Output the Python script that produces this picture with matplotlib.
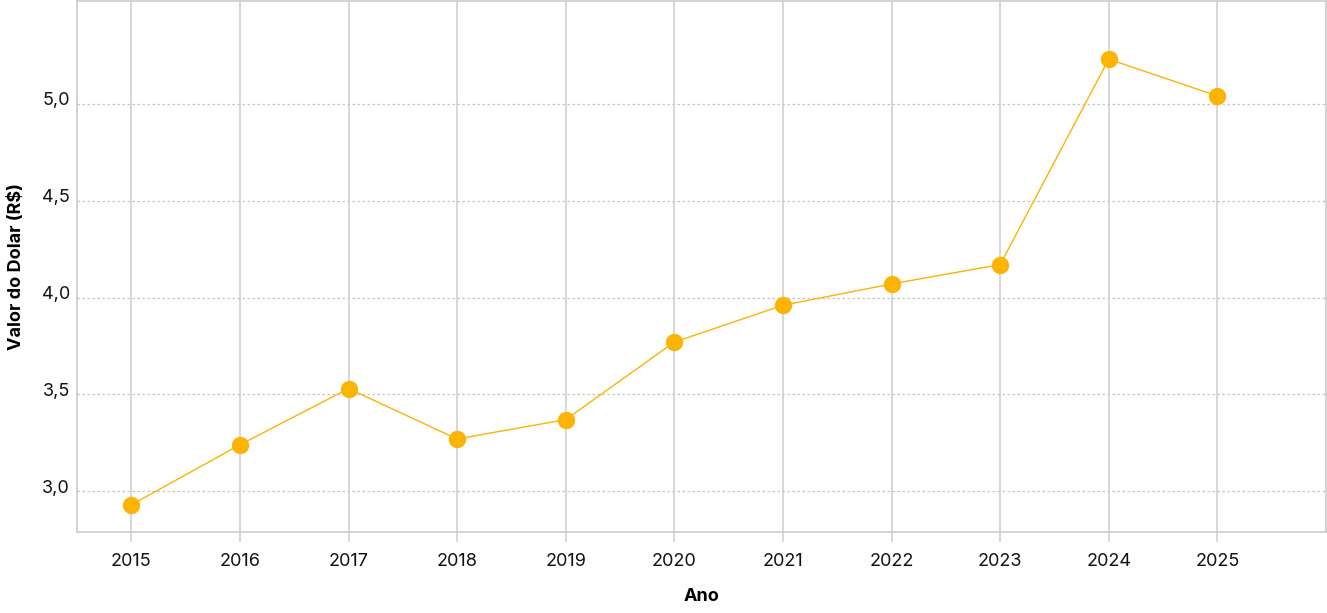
import matplotlib
matplotlib.use("Agg")
import matplotlib.pyplot as plt
import matplotlib.transforms as mtransforms
from matplotlib.ticker import FuncFormatter

anos = ["2015", "2016", "2017", "2018", "2019", "2020", "2021", "2022", "2023", "2024", "2025"]
dolar = [2.93, 3.24, 3.53, 3.27, 3.37, 3.77, 3.96, 4.07, 4.17, 5.23, 5.04]
y_ticks = [3.0, 3.5, 4.0, 4.5, 5.0]

plt.rcParams["font.family"] = ["Inter", "DejaVu Sans"]

fig = plt.figure(figsize=(13.27, 6.13), dpi=100)
ax = fig.add_axes([77 / 1327, 1 - 532 / 613, (1326 - 77) / 1327, (532 - 1) / 613])

x = list(range(len(anos)))
ax.plot(x, dolar, color="#fbb304", linewidth=1.0, zorder=3)
ax.plot(x, dolar, "o", color="#fbb304", markersize=12.5, markeredgewidth=0, zorder=4)

ax.set_xlim(-0.5, 11.0)
ax.set_ylim(2.79, 5.53)
ax.set_xticks(x)
ax.set_xticklabels(anos)
ax.set_yticks(y_ticks)
ax.yaxis.set_major_formatter(FuncFormatter(lambda v, p: f"{v:.1f}".replace(".", ",")))

ax.grid(axis="x", color="#d4d4d4", linewidth=1.3, linestyle="-")
ax.grid(axis="y", color="#c4c4c4", linewidth=0.9, linestyle=(0, (2, 2)))
ax.set_axisbelow(True)

for s in ax.spines.values():
    s.set_color("#cccccc")
    s.set_linewidth(1.2)

ax.tick_params(axis="x", length=7, width=1.3, color="#d4d4d4", labelsize=13, pad=8, labelcolor="#111111")
ax.tick_params(axis="y", length=0, labelsize=13, pad=5, labelcolor="#111111")

# y labels sit slightly above their grid lines
offset = mtransforms.ScaledTranslation(0, 5 / 100, fig.dpi_scale_trans)
for lbl in ax.get_yticklabels():
    lbl.set_transform(lbl.get_transform() + offset)

ax.set_xlabel("Ano", fontsize=13, fontweight="bold", labelpad=13)
ax.set_ylabel("Valor do Dolar (R$)", fontsize=13, fontweight="bold", labelpad=12)

fig.savefig("out.png", dpi=100)
